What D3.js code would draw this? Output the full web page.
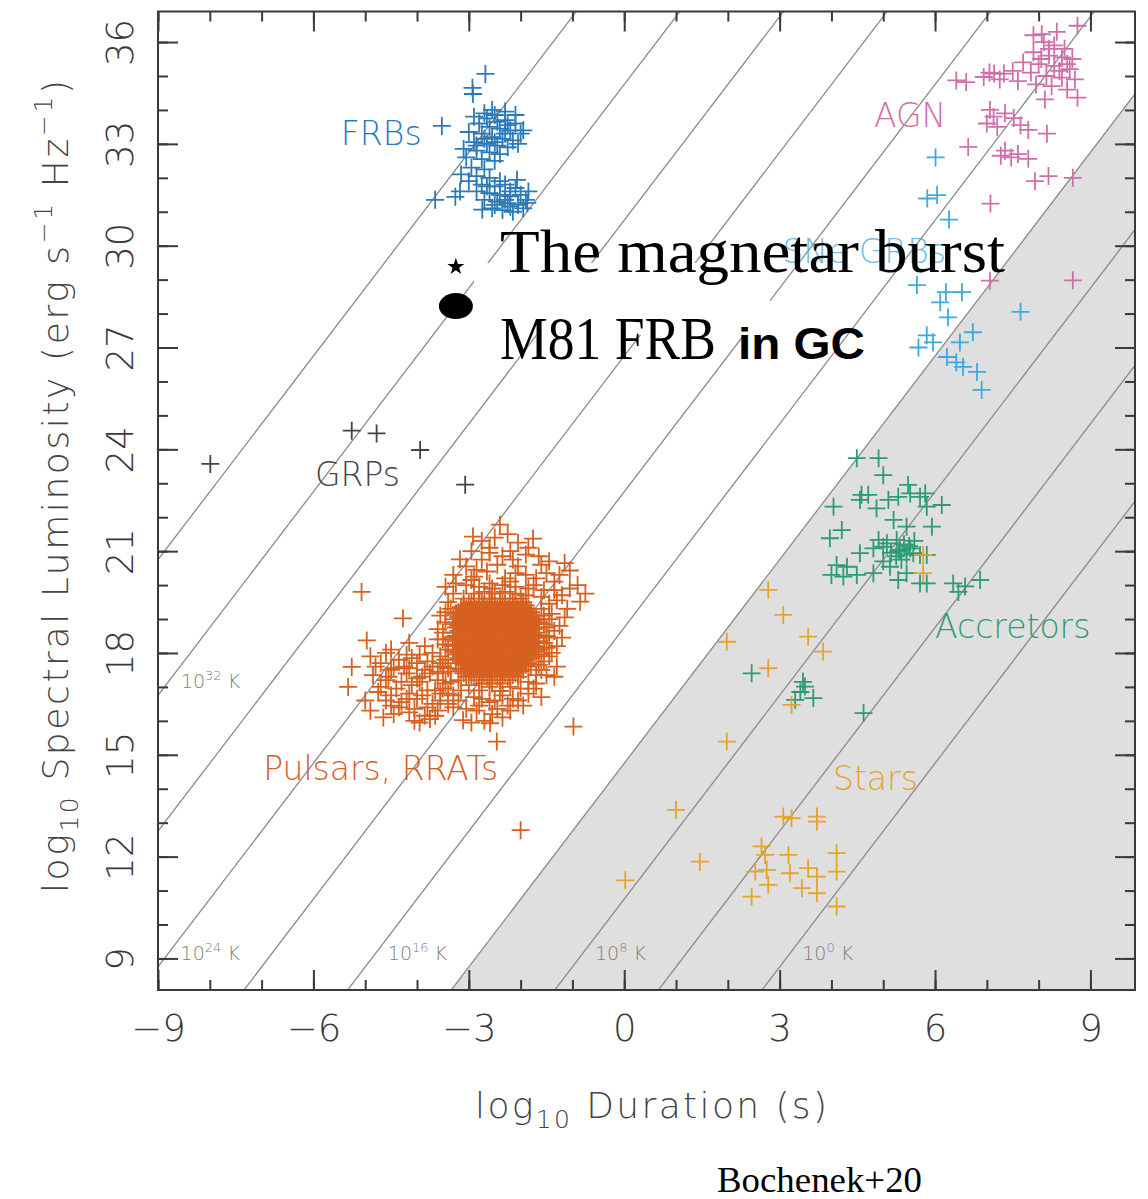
<!DOCTYPE html>
<html>
<head>
<meta charset="utf-8">
<script src="https://cdn.jsdelivr.net/npm/d3@7"></script>
<style>
  html, body { margin: 0; padding: 0; background: #fff; }
  svg { display: block; }
</style>
</head>
<body>
<svg id="chart" width="1148" height="1199"></svg>
<script>
// ---------------- data ----------------
const xMajorTicks = [-9, -6, -3, 0, 3, 6, 9];
const yMajorTicks = [9, 12, 15, 18, 21, 24, 27, 30, 33, 36];
const xMinorTicks = d3.range(-9, 10);
const yMinorTicks = d3.range(9, 37);

// constant brightness-temperature lines, log10 T (K)
const tempLines = [0, 4, 8, 12, 16, 20, 24, 28, 32, 36];
const coherenceLimit = 12;          // shaded: T below 10^12 K
const tempLabels = [
  { T: 32, L: 16.97 }, { T: 24, L: 8.96 }, { T: 16, L: 8.96 }, { T: 8, L: 8.96 }, { T: 0, L: 8.96 }
];

// [log10 duration (s), log10 spectral luminosity]
const frbs = [
  [-2.68,35.06],[-2.93,34.65],[-2.92,34.47],[-3.52,33.53],[-3.65,31.35],[-3.17,31.6],[-3.26,31.44],
  [-2.74,31.06],[-2.2,31.15],[-1.87,31.26],[-2.07,31.94],
  [-2.9,33.8],[-2.7,33.9],[-2.5,33.85],[-2.3,33.7],[-2.1,33.6],[-2.8,33.6],[-2.6,33.5],[-2.4,33.45],
  [-2.2,33.4],[-2.0,33.3],[-3.0,33.35],[-2.75,33.3],[-2.55,33.2],[-2.35,33.15],[-2.15,33.1],[-2.9,33.05],
  [-2.65,33.0],[-2.45,32.95],[-2.25,32.9],[-2.05,33.0],[-2.85,32.8],[-2.6,32.75],[-2.4,32.7],[-3.05,32.6],
  [-2.75,32.55],[-2.5,32.5],[-2.95,32.3],[-2.7,32.25],[-3.15,32.1],[-2.85,32.05],[-2.6,32.0],[-3.0,31.9],
  [-2.75,31.8],[-2.5,31.75],[-2.3,31.8],[-2.1,31.7],[-2.85,31.6],[-2.6,31.55],[-2.4,31.5],[-2.2,31.45],
  [-2.0,31.5],[-1.85,31.6],[-2.7,31.35],[-2.45,31.3],[-2.25,31.25],[-2.05,31.2],[-1.9,31.35],[-2.55,31.1],
  [-2.35,31.05],[-2.15,31.0],[-1.95,31.1],[-2.3,33.95],[-2.55,34.0],[-2.1,33.85],[-1.95,33.4],[-3.1,32.85],
  [-2.2,31.6],[-2.65,33.75],[-2.45,33.65],[-2.25,33.55],[-2.7,33.15],[-2.5,33.05],[-2.3,33.3],[-2.85,32.95],
  [-2.4,31.9],[-2.65,31.75],[-2.3,31.35],[-2.5,31.2]
];

const agn = [
  [8.75,36.48],[8.06,36.23],[8.1,36.0],[8.3,35.9],[8.5,35.8],[7.9,35.7],[8.2,35.6],[8.45,35.55],[8.65,35.5],
  [7.7,35.4],[8.0,35.35],[8.3,35.3],[8.6,35.2],[7.5,35.15],[7.85,35.1],[8.15,35.0],[8.45,34.95],[8.7,34.9],
  [6.41,34.87],[6.6,34.82],[6.94,34.97],[7.14,35.07],[7.33,35.07],[7.05,35.1],[7.25,34.9],[7.6,34.85],
  [7.95,34.75],[8.25,34.7],[8.55,34.6],[8.75,34.36],[8.12,34.31],[7.06,34.0],[7.13,33.8],[7.0,33.6],
  [7.2,33.5],[7.35,33.9],[7.52,33.76],[7.65,33.55],[7.8,33.41],[8.16,33.3],[6.64,32.91],[7.27,32.65],
  [7.47,32.6],[7.8,32.56],[7.35,32.8],[7.6,32.7],[7.93,31.9],[8.19,32.05],[8.66,32.0],[7.07,31.24],
  [8.66,28.98],[7.06,28.97],[7.9,36.2],[8.35,36.3],[8.2,35.8],[8.4,35.15],[8.05,35.5],[8.55,35.35]
];

const sneGrbs = [
  [6.01,32.6],[5.85,31.39],[6.04,31.49],[6.27,30.77],[5.65,28.84],[6.21,28.63],[6.52,28.63],[6.1,28.33],
  [6.25,27.89],[7.65,28.05],[5.84,27.36],[5.96,27.15],[6.48,27.15],[6.73,27.45],[6.23,26.72],[6.54,26.43],
  [6.81,26.28],[6.9,25.75],[5.68,27.0],[6.41,26.56]
];

const grps = [[-7.99,23.57],[-5.26,24.55],[-4.78,24.47],[-3.94,23.98],[-3.07,22.96]];

// densely populated pulsar core, one row of durations per luminosity
const pulsarCoreRows = [
  [19.6,[-2.8,-2.6,-2.4,-2.2,-2.0]],
  [19.5,[-2.95,-2.75,-2.55,-2.35,-2.15,-1.95]],
  [19.45,[-3.0,-2.8,-2.6,-2.4,-2.2,-2.0]],
  [19.4,[-3.1,-2.9,-2.7,-2.5,-2.3,-2.1,-1.9]],
  [19.35,[-3.15,-2.95,-2.75,-2.55,-2.35,-2.15,-1.95]],
  [19.3,[-3.05,-2.85,-2.65,-2.45,-2.25,-2.05,-1.85]],
  [19.25,[-3.1,-2.9,-2.7,-2.5,-2.3,-2.1,-1.9]],
  [19.2,[-3.2,-3.0,-2.8,-2.6,-2.4,-2.2,-2.0,-1.8]],
  [19.15,[-3.25,-3.05,-2.85,-2.65,-2.45,-2.25,-2.05,-1.85]],
  [19.1,[-3.15,-2.95,-2.75,-2.55,-2.35,-2.15,-1.95,-1.75]],
  [19.05,[-3.2,-3.0,-2.8,-2.6,-2.4,-2.2,-2.0,-1.8]],
  [19.0,[-3.3,-3.1,-2.9,-2.7,-2.5,-2.3,-2.1,-1.9,-1.7]],
  [18.95,[-3.15,-2.95,-2.75,-2.55,-2.35,-2.15,-1.95,-1.75]],
  [18.9,[-3.25,-3.05,-2.85,-2.65,-2.45,-2.25,-2.05,-1.85,-1.65]],
  [18.85,[-3.3,-3.1,-2.9,-2.7,-2.5,-2.3,-2.1,-1.9,-1.7]],
  [18.8,[-3.2,-3.0,-2.8,-2.6,-2.4,-2.2,-2.0,-1.8]],
  [18.75,[-3.25,-3.05,-2.85,-2.65,-2.45,-2.25,-2.05,-1.85,-1.65]],
  [18.7,[-3.15,-2.95,-2.75,-2.55,-2.35,-2.15,-1.95,-1.75]],
  [18.65,[-3.2,-3.0,-2.8,-2.6,-2.4,-2.2,-2.0,-1.8]],
  [18.6,[-3.3,-3.1,-2.9,-2.7,-2.5,-2.3,-2.1,-1.9,-1.7]],
  [18.55,[-3.15,-2.95,-2.75,-2.55,-2.35,-2.15,-1.95,-1.75]],
  [18.5,[-3.25,-3.05,-2.85,-2.65,-2.45,-2.25,-2.05,-1.85,-1.65]],
  [18.45,[-3.3,-3.1,-2.9,-2.7,-2.5,-2.3,-2.1,-1.9,-1.7]],
  [18.4,[-3.2,-3.0,-2.8,-2.6,-2.4,-2.2,-2.0,-1.8]],
  [18.35,[-3.25,-3.05,-2.85,-2.65,-2.45,-2.25,-2.05,-1.85,-1.65]],
  [18.3,[-3.15,-2.95,-2.75,-2.55,-2.35,-2.15,-1.95,-1.75]],
  [18.25,[-3.2,-3.0,-2.8,-2.6,-2.4,-2.2,-2.0,-1.8]],
  [18.2,[-3.3,-3.1,-2.9,-2.7,-2.5,-2.3,-2.1,-1.9,-1.7]],
  [18.15,[-3.15,-2.95,-2.75,-2.55,-2.35,-2.15,-1.95,-1.75]],
  [18.1,[-3.25,-3.05,-2.85,-2.65,-2.45,-2.25,-2.05,-1.85,-1.65]],
  [18.05,[-3.3,-3.1,-2.9,-2.7,-2.5,-2.3,-2.1,-1.9,-1.7]],
  [18.0,[-3.2,-3.0,-2.8,-2.6,-2.4,-2.2,-2.0,-1.8]],
  [17.95,[-3.25,-3.05,-2.85,-2.65,-2.45,-2.25,-2.05,-1.85]],
  [17.9,[-3.15,-2.95,-2.75,-2.55,-2.35,-2.15,-1.95,-1.75]],
  [17.85,[-3.2,-3.0,-2.8,-2.6,-2.4,-2.2,-2.0,-1.8]],
  [17.8,[-3.1,-2.9,-2.7,-2.5,-2.3,-2.1,-1.9]],
  [17.75,[-3.15,-2.95,-2.75,-2.55,-2.35,-2.15,-1.95]],
  [17.7,[-3.25,-3.05,-2.85,-2.65,-2.45,-2.25,-2.05,-1.85]],
  [17.65,[-3.1,-2.9,-2.7,-2.5,-2.3,-2.1,-1.9]],
  [17.6,[-3.0,-2.8,-2.6,-2.4,-2.2,-2.0,-1.8]],
  [17.55,[-3.05,-2.85,-2.65,-2.45,-2.25,-2.05]],
  [17.5,[-3.15,-2.95,-2.75,-2.55,-2.35,-2.15,-1.95]],
  [17.45,[-3.0,-2.8,-2.6,-2.4,-2.2,-2.0]],
  [17.4,[-3.1,-2.9,-2.7,-2.5,-2.3,-2.1]],
  [17.35,[-2.95,-2.75,-2.55,-2.35,-2.15]],
  [17.3,[-3.05,-2.85,-2.65,-2.45,-2.25,-2.05]],
  [17.2,[-2.8,-2.6,-2.4,-2.2]],
  [17.1,[-2.75,-2.55,-2.35]]
];

const pulsarHalo = [
  [-2.4,21.78],[-2.92,21.43],[-1.76,21.37],[-3.17,20.76],[-2.6,21.1],[-2.2,21.0],[-1.9,20.9],[-2.75,20.75],
  [-2.45,20.6],[-2.05,20.55],[-1.6,20.6],[-1.05,20.43],[-3.3,20.3],[-2.9,20.25],[-2.3,20.2],[-1.7,20.2],
  [-1.35,20.1],[-3.45,19.95],[-2.55,19.9],[-1.55,19.85],[-1.2,19.7],[-0.85,19.51],[-1.45,19.45],[-1.1,19.3],
  [-3.4,19.5],[-3.55,19.1],[-1.45,19.0],[-1.25,18.8],[-1.5,18.5],[-1.3,18.2],[-1.45,17.9],[-1.6,17.5],
  [-1.35,17.3],[-1.7,17.1],[-1.85,16.8],[-2.05,16.6],[-2.35,16.75],[-2.6,16.55],[-2.9,16.7],[-3.2,16.6],
  [-3.4,16.8],[-2.2,16.3],[-2.55,16.2],[-2.85,16.3],[-3.11,16.02],[-2.59,15.93],[-2.46,15.39],[-0.98,15.83],
  [-3.5,17.4],[-3.55,17.9],[-3.5,18.4],[-3.6,18.7],[-2.0,12.78],
  [-2.75,21.3],[-2.5,21.4],[-2.25,21.5],[-2.05,21.25],[-1.85,21.1],[-2.95,21.0],[-2.6,20.95],[-2.35,20.85],
  [-2.15,20.75],[-1.65,20.85],[-1.45,20.7],[-3.05,20.55],[-2.85,20.45],[-2.65,20.4],[-2.1,20.35],[-1.9,20.3],
  [-1.5,20.35],[-1.25,20.3],[-3.25,20.05],[-3.05,20.0],[-2.8,19.95],[-2.35,20.0],[-2.1,19.95],[-1.85,19.9],
  [-1.35,19.85],[-1.05,19.9],[-3.3,19.75],[-1.6,19.65],[-1.3,19.55],[-1.6,19.3],[-1.4,19.15],[-1.15,19.05],
  [-1.55,18.85],[-1.35,18.65],[-1.55,18.3],[-1.2,18.45],[-1.4,18.0],[-1.55,17.75],[-1.3,17.6],[-1.5,17.35],
  [-1.75,16.95],[-1.6,16.7],[-1.95,16.45],[-2.25,16.45],[-2.5,16.6],[-2.8,16.45],[-3.05,16.35],[-3.3,16.4],
  [-2.35,16.1],[-2.7,16.0],[-2.95,15.95],[-3.35,19.3],[-3.45,18.9],[-3.6,18.4],[-3.4,18.1],[-3.55,17.7],
  [-3.35,17.45],[-3.5,16.95],[-3.3,16.75],[-0.9,20.0],[-1.15,20.65],[-0.75,19.75],
  [-2.9,19.75],[-2.7,19.8],[-2.5,19.75],[-2.3,19.8],[-2.1,19.75],[-1.9,19.7],[-3.1,19.6],[-2.6,20.05],
  [-2.2,20.1],[-2.95,20.15],[-1.75,20.0],[-1.55,19.1],[-1.5,18.75],[-1.45,18.45],[-1.5,18.15],[-1.6,17.95],
  [-1.65,17.65],[-1.7,17.35],[-1.85,17.15],[-3.0,17.05],[-2.8,16.9],[-2.6,17.0],[-2.4,16.88],[-2.2,17.0],
  [-2.0,16.95],[-3.2,17.2],[-3.45,19.2],[-3.5,18.6],[-3.45,18.25],[-3.45,17.8],[-3.4,17.55],[-3.35,17.15],
  [-2.45,16.35],[-2.15,16.65],[-2.75,16.65],[-3.15,16.9]
];

const pulsarLobe = [
  [-5.07,19.8],[-4.27,19.02],[-4.97,18.37],[-5.26,17.59],[-5.33,17.0],
  [-4.5,18.1],[-4.15,18.3],[-3.85,18.2],[-4.7,17.7],[-4.35,17.8],[-4.0,17.7],[-3.7,17.6],[-4.85,17.35],
  [-4.55,17.3],[-4.2,17.4],[-3.9,17.3],[-3.6,17.2],[-4.7,17.0],[-4.4,16.95],[-4.1,17.05],[-3.8,16.9],
  [-3.55,16.8],[-4.6,16.6],[-4.3,16.55],[-4.0,16.65],[-3.7,16.5],[-4.45,16.2],[-4.15,16.25],[-3.85,16.15],
  [-3.6,16.3],[-4.9,16.3],[-4.75,16.85],[-4.25,17.6],[-3.95,17.95],[-3.7,18.0],[-4.6,18.0],[-4.9,17.9],
  [-5.0,16.6],[-3.4,16.5],[-3.45,17.1],[-3.5,17.6],[-4.05,16.0],[-3.75,16.05],[-4.5,16.45],[-4.15,16.8],
  [-3.95,17.15],[-4.45,17.55],[-4.2,17.95],
  [-4.6,17.2],[-4.3,17.15],[-4.0,17.25],[-3.75,17.4],[-4.5,16.75],[-4.2,16.65],[-3.9,16.75],[-3.65,16.9],
  [-4.35,16.4],[-4.05,16.35],[-3.8,16.4],[-4.8,17.6],[-4.5,17.5],[-4.15,17.55],[-3.85,17.5],[-4.65,16.1],
  [-3.95,15.95],[-4.1,17.85],[-3.8,17.75],[-3.6,17.45],[-3.55,16.6],[-3.65,16.15]
];

const accretors = [
  [4.49,23.74],[4.91,23.74],[5.0,23.24],[4.58,22.66],[4.71,22.66],[4.55,22.51],[4.87,22.26],[5.1,22.51],
  [5.29,22.6],[5.48,22.95],[5.52,22.7],[5.71,22.6],[5.81,22.7],[5.84,22.31],[6.13,22.36],[4.04,22.31],
  [5.2,21.92],[5.45,21.72],[5.94,21.72],[4.2,21.62],[3.97,21.38],[4.91,21.33],[5.07,21.23],[5.26,21.33],
  [5.32,21.04],[5.52,21.08],[5.58,20.94],[5.71,20.89],[5.84,20.89],[4.55,20.94],[4.81,21.08],[5.0,21.13],
  [4.1,20.59],[4.3,20.54],[4.0,20.3],[4.23,20.25],[4.49,20.3],[4.81,20.35],[5.13,20.54],[5.29,20.15],
  [5.45,20.35],[5.71,20.05],[5.84,20.05],[6.35,20.05],[6.58,19.96],[6.87,20.15],[6.45,19.8],[5.4,21.2],
  [5.15,20.95],[5.35,20.75],[5.6,21.3],[5.0,20.7],[5.3,21.0],[5.45,20.9],[5.25,20.85],[5.5,21.15],
  [2.46,17.4],[3.49,17.01],[3.45,17.15],[3.4,16.85],[3.65,16.67],[3.3,16.62],[4.62,16.23]
];

const stars = [
  [2.78,19.86],[3.07,19.12],[1.98,18.33],[3.55,18.48],[3.84,18.04],[2.78,17.55],[3.23,16.47],[1.98,15.39],
  [5.77,20.89],[5.77,20.35],[3.07,13.18],[3.23,13.13],[3.72,13.18],[3.72,13.03],[2.65,12.3],[2.72,12.05],
  [1.46,11.85],[3.17,12.05],[4.1,12.1],[2.53,11.56],[2.75,11.61],[3.2,11.51],[3.55,11.66],[3.72,11.41],
  [4.1,11.56],[2.78,11.17],[3.43,11.07],[3.72,10.92],[2.46,10.82],[4.1,10.53],[1.0,13.38],[0.02,11.3]
];

const magnetarBurst = [-3.25, 29.38];
const m81Frb = [-3.25, 28.22];

// ---------------- layout ----------------
const W = 1148, H = 1199;
const plot = { left: 158, right: 1135, top: 11.5, bottom: 990 };
const x = d3.scaleLinear().domain([-9, 9.86]).range([plot.left, plot.right]);
const y = d3.scaleLinear().domain([8.07, 36.9]).range([plot.bottom, plot.top]);

const sans = "'DejaVu Sans', 'Liberation Sans', sans-serif";
const colors = {
  frb: "#2a7ab9", agn: "#cf6fa9", sne: "#3caae0", grp: "#444444",
  pulsar: "#d6601f", accretor: "#2d9b73", star: "#e6a428"
};

const groupLabels = [
  { text: "FRBs", x: -5.47, y: 32.96, color: colors.frb },
  { text: "AGN", x: 4.82, y: 33.5, color: colors.agn },
  { text: "SNe GRBs", x: 3.05, y: 29.49, color: colors.sne, opacity: 0.75 },
  { text: "GRPs", x: -5.97, y: 22.92, color: colors.grp },
  { text: "Pulsars, RRATs", x: -6.97, y: 14.26, color: colors.pulsar },
  { text: "Accretors", x: 6.0, y: 18.44, color: colors.accretor },
  { text: "Stars", x: 4.03, y: 13.97, color: colors.star }
];

const svg = d3.select("#chart");
svg.append("rect").attr("width", W).attr("height", H).attr("fill", "#fff");

svg.append("defs").append("clipPath").attr("id", "plotClip")
  .append("rect")
  .attr("x", plot.left).attr("y", plot.top)
  .attr("width", plot.right - plot.left).attr("height", plot.bottom - plot.top);

const area = svg.append("g").attr("clip-path", "url(#plotClip)");

// log L = 2 log t + log T + K  (lines of constant brightness temperature)
const K = 2.75;
const lumAt = (T, t) => 2 * t + T + K;
const durAt = (T, L) => (L - T - K) / 2;
const [t0, t1] = x.domain();
const [L0] = y.domain();

// incoherent (shaded) region
area.append("path")
  .attr("d", d3.line()([
    [x(durAt(coherenceLimit, L0)), y(L0)],
    [x(t1), y(lumAt(coherenceLimit, t1))],
    [x(t1), y(L0)]
  ]) + "Z")
  .attr("fill", "#dfdfdf");

area.append("g").selectAll("line").data(tempLines).join("line")
  .attr("x1", x(t0)).attr("y1", T => y(lumAt(T, t0)))
  .attr("x2", x(t1)).attr("y2", T => y(lumAt(T, t1)))
  .attr("stroke", "#8a8a8a").attr("stroke-width", 1.3);

// temperature labels
const tl = area.append("g").attr("font-family", sans).attr("font-weight", 200).attr("fill", "#7d7d7d");
tempLabels.forEach(d => {
  const t = tl.append("text")
    .attr("x", x(durAt(d.T, d.L + 0.2)) + 12)
    .attr("y", y(d.L))
    .attr("font-size", 19);
  t.append("tspan").text("10");
  t.append("tspan").attr("dy", -8).attr("font-size", 13).text(d.T);
  t.append("tspan").attr("dy", 8).text("  K");
});

// scatter populations
const plus = "M-9,0H9M0,-9V9";
function drawPoints(data, color) {
  area.append("g").selectAll("path").data(data).join("path")
    .attr("d", plus)
    .attr("transform", d => `translate(${x(d[0])},${y(d[1])})`)
    .attr("fill", "none").attr("stroke", color).attr("stroke-width", 1.8);
}
const pulsarCore = pulsarCoreRows.flatMap(([L, ts]) => ts.map(t => [t, L]));
drawPoints(pulsarLobe, colors.pulsar);
drawPoints(pulsarHalo, colors.pulsar);
drawPoints(pulsarCore, colors.pulsar);
drawPoints(grps, colors.grp);
drawPoints(frbs, colors.frb);
drawPoints(agn, colors.agn);
drawPoints(sneGrbs, colors.sne);
drawPoints(accretors, colors.accretor);
drawPoints(stars, colors.star);

area.append("g").selectAll("text").data(groupLabels).join("text")
  .attr("x", d => x(d.x)).attr("y", d => y(d.y))
  .attr("fill", d => d.color).attr("opacity", d => d.opacity || 1)
  .attr("font-family", sans).attr("font-weight", 200).attr("font-size", 33)
  .text(d => d.text);

// frame and inward ticks on all sides
const axisColor = "#3a3a3a";
const fmt = d => d < 0 ? "\u2212" + (-d) : String(d);
function axisLayer(axis, tx, ty) {
  const g = svg.append("g").attr("transform", `translate(${tx},${ty})`).call(axis);
  g.select(".domain").remove();
  g.selectAll(".tick line").attr("stroke", axisColor).attr("stroke-width", 2);
  return g;
}
axisLayer(d3.axisBottom(x).tickValues(xMinorTicks).tickSize(-10).tickFormat(""), 0, plot.bottom);
axisLayer(d3.axisTop(x).tickValues(xMinorTicks).tickSize(-10).tickFormat(""), 0, plot.top);
axisLayer(d3.axisTop(x).tickValues(xMajorTicks).tickSize(-20).tickFormat(""), 0, plot.top);
axisLayer(d3.axisLeft(y).tickValues(yMinorTicks).tickSize(-10).tickFormat(""), plot.left, 0);
axisLayer(d3.axisRight(y).tickValues(yMinorTicks).tickSize(-10).tickFormat(""), plot.right, 0);
axisLayer(d3.axisRight(y).tickValues(yMajorTicks).tickSize(-20).tickFormat(""), plot.right, 0);

const xAxis = axisLayer(d3.axisBottom(x).tickValues(xMajorTicks).tickSize(-20).tickPadding(25).tickFormat(fmt), 0, plot.bottom);
xAxis.selectAll(".tick text")
  .attr("font-family", sans).attr("font-weight", 200).attr("font-size", 37).attr("fill", "#3a3a3a");

const yAxis = axisLayer(d3.axisLeft(y).tickValues(yMajorTicks).tickSize(-20).tickFormat(fmt), plot.left, 0);
yAxis.selectAll(".tick text")
  .attr("transform", "rotate(-90)")
  .attr("x", 0).attr("y", -25).attr("dy", 0)
  .attr("text-anchor", "middle")
  .attr("font-family", sans).attr("font-weight", 200).attr("font-size", 37).attr("fill", "#3a3a3a");

svg.append("rect")
  .attr("x", plot.left).attr("y", plot.top)
  .attr("width", plot.right - plot.left).attr("height", plot.bottom - plot.top)
  .attr("fill", "none").attr("stroke", axisColor).attr("stroke-width", 2);

// axis titles
const xt = svg.append("text")
  .attr("x", 475).attr("y", 1118)
  .attr("font-family", sans).attr("font-weight", 200).attr("font-size", 36).attr("fill", "#444")
  .attr("textLength", 352).attr("lengthAdjust", "spacing");
xt.append("tspan").text("log");
xt.append("tspan").attr("dy", 10).attr("font-size", 25).text("10");
xt.append("tspan").attr("dy", -10).text(" Duration (s)");

const yt = svg.append("text")
  .attr("transform", "translate(68,893) rotate(-90)")
  .attr("font-family", sans).attr("font-weight", 200).attr("font-size", 36).attr("fill", "#444")
  .attr("textLength", 813).attr("lengthAdjust", "spacing");
yt.append("tspan").text("log");
yt.append("tspan").attr("dy", 10).attr("font-size", 25).text("10");
yt.append("tspan").attr("dy", -10).text(" Spectral Luminosity (erg s");
yt.append("tspan").attr("dy", -16).attr("font-size", 25).text("\u22121");
yt.append("tspan").attr("dy", 16).text(" Hz");
yt.append("tspan").attr("dy", -16).attr("font-size", 25).text("\u22121");
yt.append("tspan").attr("dy", 16).text(")");

// annotation: magnetar burst and M81 FRB
const ann = svg.append("g");
ann.append("rect").attr("x", 474).attr("y", 263).attr("width", 296).attr("height", 72).attr("fill", "#fff");
ann.append("path")
  .attr("d", d3.symbol(d3.symbolStar).size(90)())
  .attr("transform", `translate(${x(magnetarBurst[0])},${y(magnetarBurst[1])})`)
  .attr("fill", "#000");
ann.append("ellipse")
  .attr("cx", x(m81Frb[0])).attr("cy", y(m81Frb[1]))
  .attr("rx", 17).attr("ry", 13).attr("fill", "#000");

const serif = "'Liberation Serif', 'DejaVu Serif', serif";
ann.append("text").attr("x", 500).attr("y", 272)
  .attr("font-family", serif).attr("font-size", 62).attr("fill", "#000")
  .attr("textLength", 505).attr("lengthAdjust", "spacingAndGlyphs")
  .text("The magnetar burst");
ann.append("text").attr("x", 500).attr("y", 359)
  .attr("font-family", serif).attr("font-size", 62).attr("fill", "#000")
  .attr("textLength", 216).attr("lengthAdjust", "spacingAndGlyphs")
  .text("M81 FRB");
ann.append("text").attr("x", 738).attr("y", 359)
  .attr("font-family", "'Liberation Sans', Arial, sans-serif").attr("font-weight", 700)
  .attr("font-size", 45).attr("fill", "#000")
  .attr("textLength", 127).attr("lengthAdjust", "spacingAndGlyphs")
  .text("in GC");

svg.append("text").attr("x", 717).attr("y", 1192)
  .attr("font-family", serif).attr("font-size", 36).attr("fill", "#000")
  .attr("textLength", 205).attr("lengthAdjust", "spacingAndGlyphs")
  .text("Bochenek+20");
</script>
</body>
</html>
